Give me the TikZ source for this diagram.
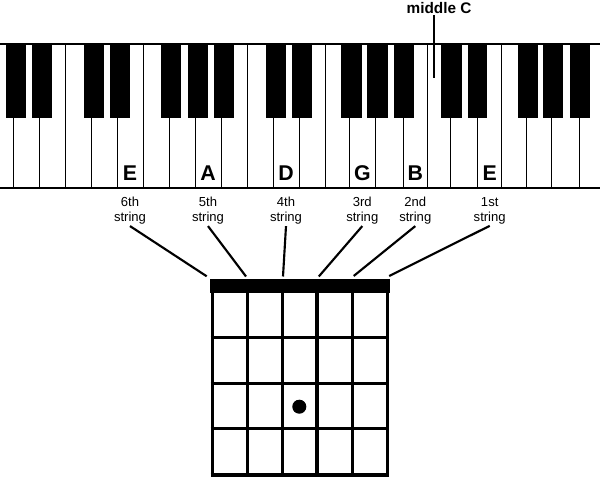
\documentclass[tikz,border=0pt]{standalone}
\usepackage{fontspec}
\setmainfont{Liberation Sans}

\tikzset{every picture/.style={line width=0.75pt}}
\tikzset{
  keyline/.style={line width=0.75pt},
  rimline/.style={line width=1pt},
  blackkey/.style={draw=black,fill=black,line width=0.4pt},
  notelbl/.style={anchor=base,inner sep=0.75pt,font=\fontsize{16}{19}\selectfont\bfseries},
  stringlbl/.style={inner sep=0.75pt,align=center,font=\fontsize{9.8}{11.25}\selectfont},
  pointer/.style={line width=1.6pt},
  fretline/.style={line width=2.5pt},
}

\begin{document}
\begin{tikzpicture}[x=0.75pt,y=0.75pt,yscale=-1,xscale=1]
\useasboundingbox (0,0) rectangle (600,477); %set diagram left start at 0, and has height of 477

%Straight Lines: keyboard top and bottom
\draw [rimline] (0,44) -- (600,44) ;
\draw [rimline] (0,188) -- (600,188) ;

%Straight Lines: white key edges
\draw [keyline] (13.3,44) -- (13.3,188) ;
\draw [keyline] (39.3,44) -- (39.3,188) ;
\draw [keyline] (65.3,44) -- (65.3,188) ;
\draw [keyline] (91.3,44) -- (91.3,188) ;
\draw [keyline] (117.3,44) -- (117.3,188) ;
\draw [keyline] (143.3,44) -- (143.3,188) ;
\draw [keyline] (169.3,44) -- (169.3,188) ;
\draw [keyline] (195.3,44) -- (195.3,188) ;
\draw [keyline] (221.3,44) -- (221.3,188) ;
\draw [keyline] (247.3,44) -- (247.3,188) ;
\draw [keyline] (273.3,44) -- (273.3,188) ;
\draw [keyline] (299.3,44) -- (299.3,188) ;
\draw [keyline] (325.3,44) -- (325.3,188) ;
\draw [keyline] (349.3,44) -- (349.3,188) ;
\draw [keyline] (375.3,44) -- (375.3,188) ;
\draw [keyline] (403.3,44) -- (403.3,188) ;
\draw [keyline] (427.3,44) -- (427.3,188) ;
\draw [keyline] (450,44) -- (450,188) ;
\draw [keyline] (477.7,44) -- (477.7,188) ;
\draw [keyline] (501.7,44) -- (501.7,188) ;
\draw [keyline] (526,44) -- (526,188) ;
\draw [keyline] (551.7,44) -- (551.7,188) ;
\draw [keyline] (579.3,44) -- (579.3,188) ;

%Shape: Rectangle (black keys)
\draw [blackkey] (6,44) -- (25,44) -- (25,117) -- (6,117) -- cycle ;
\draw [blackkey] (32,44) -- (51,44) -- (51,117) -- (32,117) -- cycle ;
\draw [blackkey] (84,44) -- (103,44) -- (103,117) -- (84,117) -- cycle ;
\draw [blackkey] (110,44) -- (129,44) -- (129,117) -- (110,117) -- cycle ;
\draw [blackkey] (161,44) -- (180,44) -- (180,117) -- (161,117) -- cycle ;
\draw [blackkey] (188,44) -- (207,44) -- (207,117) -- (188,117) -- cycle ;
\draw [blackkey] (214,44) -- (233,44) -- (233,117) -- (214,117) -- cycle ;
\draw [blackkey] (266,44) -- (285,44) -- (285,117) -- (266,117) -- cycle ;
\draw [blackkey] (292,44) -- (311,44) -- (311,117) -- (292,117) -- cycle ;
\draw [blackkey] (341.7,44) -- (361.3,44) -- (361.3,117) -- (341.7,117) -- cycle ;
\draw [blackkey] (367.7,44) -- (387.7,44) -- (387.7,117) -- (367.7,117) -- cycle ;
\draw [blackkey] (394,44) -- (413.3,44) -- (413.3,117) -- (394,117) -- cycle ;
\draw [blackkey] (441.7,44) -- (461,44) -- (461,117) -- (441.7,117) -- cycle ;
\draw [blackkey] (468.3,44) -- (486.7,44) -- (486.7,117) -- (468.3,117) -- cycle ;
\draw [blackkey] (518,44) -- (537,44) -- (537,117) -- (518,117) -- cycle ;
\draw [blackkey] (543.3,44) -- (562.7,44) -- (562.7,117) -- (543.3,117) -- cycle ;
\draw [blackkey] (570,44) -- (589.3,44) -- (589.3,117) -- (570,117) -- cycle ;

% Text Node
\node (midC) at (439,8) [inner sep=0.75pt,font=\fontsize{11.5}{14}\selectfont\bfseries] {middle C};
\coordinate (midCkey) at (434.3,78);
\draw [line width=1.5pt] (midCkey |- midC.south) -- (midCkey) ;

% Text Node
\node (noteE6) at (130,181) [notelbl] {E};
\node (noteA) at (208,181) [notelbl] {A};
\node (noteD) at (286,181) [notelbl] {D};
\node (noteG) at (362.3,181) [notelbl] {G};
\node (noteB) at (415.3,181) [notelbl] {B};
\node (noteE1) at (489.7,181) [notelbl] {E};

% Text Node
\node (str6) at (130,211) [stringlbl] {6th\\string};
\node (str5) at (208,211) [stringlbl] {5th\\string};
\node (str4) at (286,211) [stringlbl] {4th\\string};
\node (str3) at (362.3,211) [stringlbl] {3rd\\string};
\node (str2) at (415.3,211) [stringlbl] {2nd\\string};
\node (str1) at (489.7,211) [stringlbl] {1st\\string};

%Shape: Rectangle (nut)
\draw [fill=black] (210.7,280) -- (389,280) -- (389,292.3) -- (210.7,292.3) -- cycle ;

%Straight Lines: strings
\draw [fretline] (212.3,280) -- (212.3,476.8) ;
\draw [fretline] (247.5,280) -- (247.5,476.8) ;
\draw [fretline] (282.4,280) -- (282.4,476.8) ;
\draw [fretline] (317,280) -- (317,476.8) ;
\draw [fretline] (352.4,280) -- (352.4,476.8) ;
\draw [fretline] (387.3,280) -- (387.3,476.8) ;

%Straight Lines: frets
\draw [fretline] (210.7,337.3) -- (389,337.3) ;
\draw [fretline] (210.7,383.2) -- (389,383.2) ;
\draw [fretline] (210.7,428.8) -- (389,428.8) ;
\draw [fretline] (210.7,475) -- (389,475) ;

%Shape: Circle (finger)
\draw [fill=black] (299.3,406.7) circle (6.5) ;

% pointer ends above the nut
\coordinate (top6) at (206.7,276.3);
\coordinate (top5) at (246,276.5);
\coordinate (top4) at (283,276.5);
\coordinate (top3) at (318.8,276.5);
\coordinate (top2) at (353.7,276);
\coordinate (top1) at (389.2,276);

%Straight Lines: pointers
\draw [pointer] (str6.south) -- (top6) ;
\draw [pointer] (str5.south) -- (top5) ;
\draw [pointer] (str4.south) -- (top4) ;
\draw [pointer] (str3.south) -- (top3) ;
\draw [pointer] (str2.south) -- (top2) ;
\draw [pointer] (str1.south) -- (top1) ;

\end{tikzpicture}
\end{document}
